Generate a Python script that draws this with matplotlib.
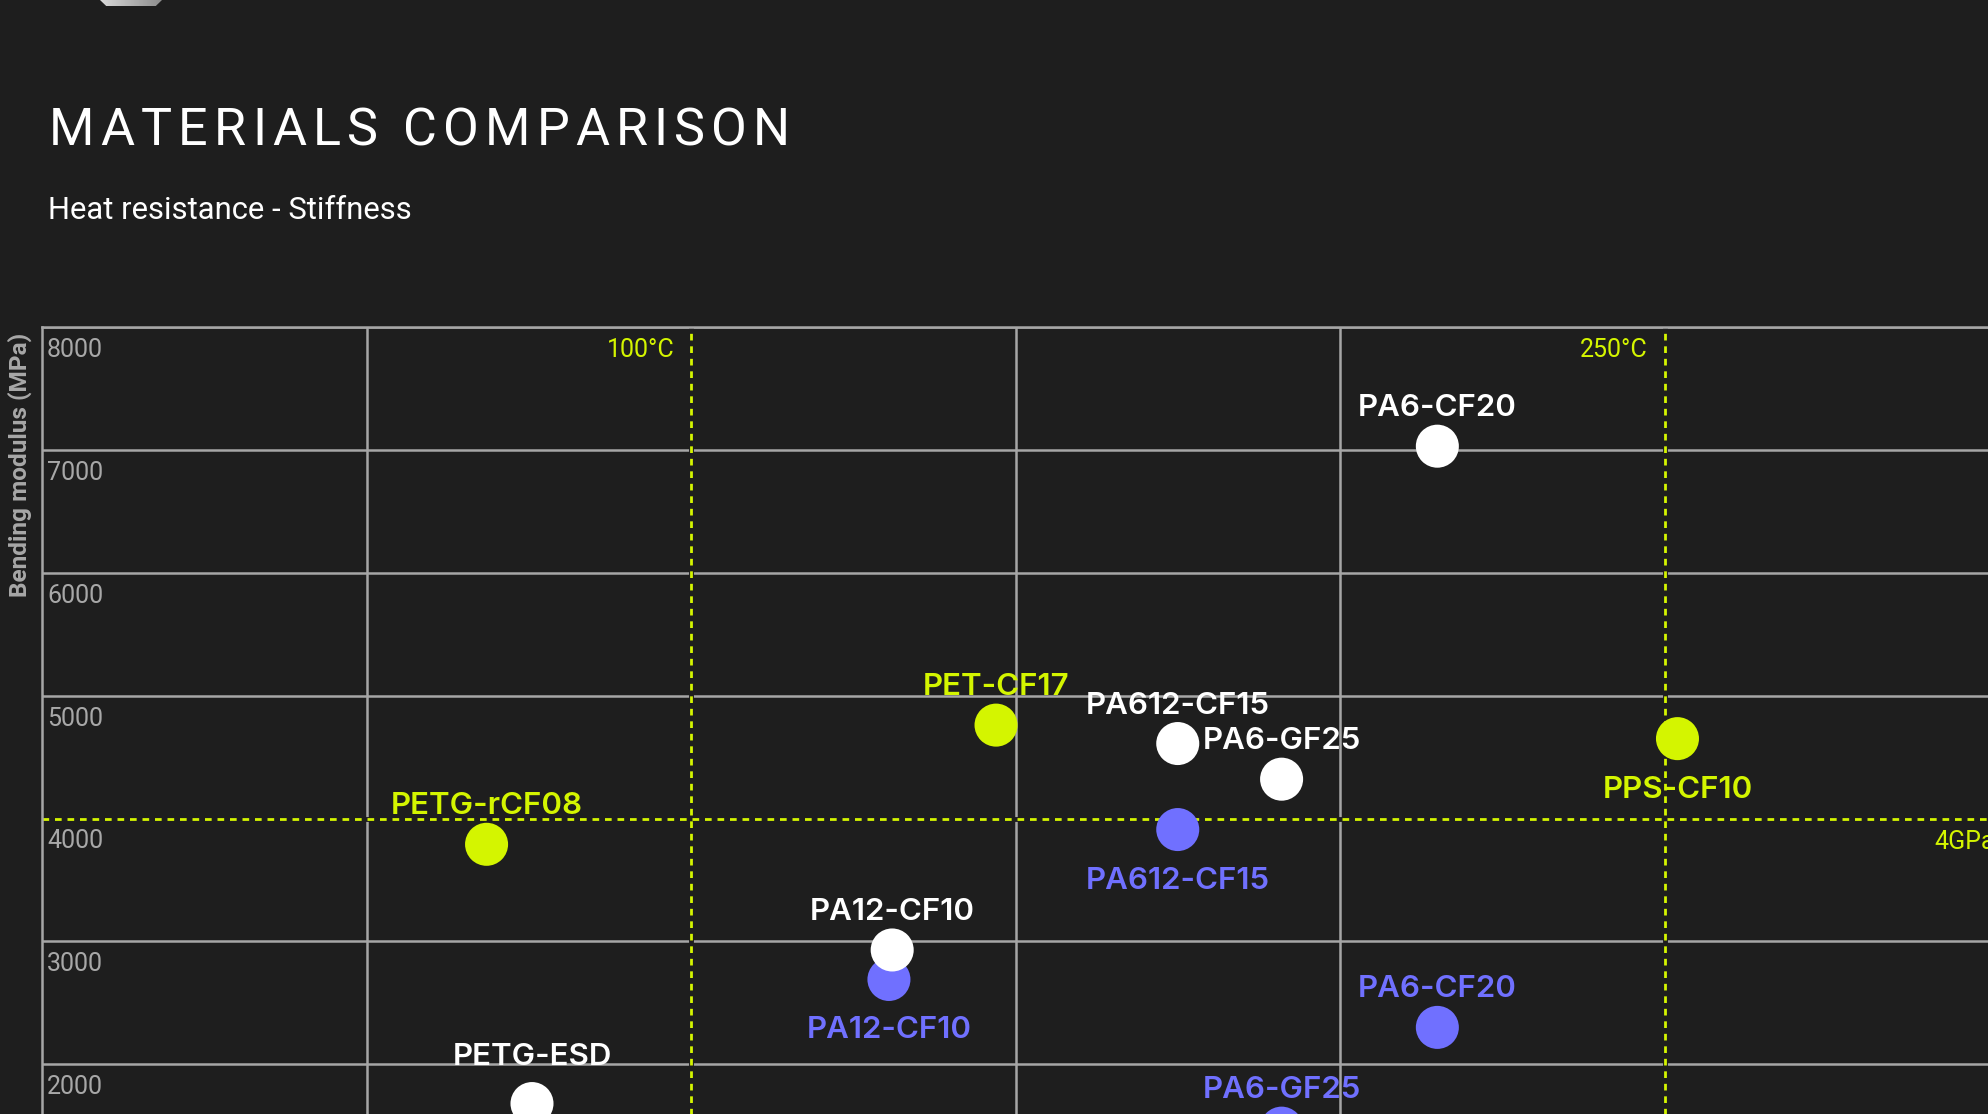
import numpy as np
import matplotlib.pyplot as plt
from matplotlib.patches import Polygon

# data (x: heat resistance in degC, y: bending modulus in MPa)
white_names = ["PA6-CF20", "PA612-CF15", "PA6-GF25", "PA12-CF10", "PETG-ESD"]
white_temp = [215, 175, 191, 131, 75.5]
white_mod = [7030, 4610, 4320, 2930, 1680]
white_pos = ["above", "above", "above", "above", "high"]

lime_names = ["PET-CF17", "PPS-CF10", "PETG-rCF08"]
lime_temp = [147, 252, 68.5]
lime_mod = [4760, 4650, 3790]
lime_pos = ["above", "below", "above"]

violet_names = ["PA612-CF15", "PA12-CF10", "PA6-CF20", "PA6-GF25"]
violet_temp = [175, 130.5, 215, 191]
violet_mod = [3910, 2690, 2300, 1480]
violet_pos = ["below", "below", "above", "above"]

x_grid = [50, 100, 150, 200, 250, 300]
y_grid = [1000, 2000, 3000, 4000, 5000, 6000, 7000, 8000]
y_labels = ["2000", "3000", "4000", "5000", "6000", "7000", "8000"]
ref_temps = [100, 250]
ref_temp_labels = ["100°C", "250°C"]
ref_mod = 4000
ref_mod_label = "4GPa"

bg = '#1e1e1e'
grid_c = '#a6a6a6'
lime = '#d4f500'
violet = '#7070ff'

W, H = 1988, 1114
fig = plt.figure(figsize=(W / 100, H / 100), dpi=100, facecolor=bg)

# axes runs past the right and bottom edges, like the cropped original
ax = fig.add_axes([42 / W, 1 - 1310 / H, 310 * 6.49 / W, (1310 - 327) / H])
ax.set_facecolor(bg)
ax.set_xlim(0, 310)
ax.set_ylim(0, 8000)
ax.set_xticks(x_grid)
ax.set_yticks(y_grid)
ax.tick_params(length=0, labelleft=False, labelbottom=False)
ax.set_axisbelow(True)
ax.grid(True, color=grid_c, lw=1.8)
for s in ['right', 'bottom']:
    ax.spines[s].set_visible(False)
for s in ['left', 'top']:
    ax.spines[s].set_color(grid_c)
    ax.spines[s].set_linewidth(1.8)

# reference lines (hide the grid line under them first)
dash = (0, (2.4, 2.1))
for t, lab in zip(ref_temps, ref_temp_labels):
    ax.axvline(t, color=bg, lw=3.5, zorder=1.5)
    ax.axvline(t, color=lime, lw=2.0, ls=dash, zorder=1.6)
    ax.annotate(lab, xy=(t, 1), xycoords=('data', 'axes fraction'), xytext=(-12, -21.6),
                textcoords='offset points', ha='right', va='baseline', color=lime,
                fontsize=18, family='Roboto')
ax.axhline(ref_mod, color=bg, lw=3.5, zorder=1.5)
ax.axhline(ref_mod, color=lime, lw=2.0, ls=dash, zorder=1.6)
ax.annotate(ref_mod_label, xy=(300, ref_mod), xytext=(4.5, -22),
            textcoords='offset points', ha='right', va='baseline', color=lime,
            fontsize=18, family='Roboto')

# y tick labels sit inside the plot, under each grid line
for lab in y_labels:
    ax.annotate(lab, xy=(0, float(lab)), xycoords=('axes fraction', 'data'), xytext=(3.6, -21.6),
                textcoords='offset points', ha='left', va='baseline', color='#a8a8a8',
                fontsize=18, family='Roboto')

offsets = {"above": 21.6, "high": 27.5, "below": -42.5}

def draw_series(temps, mods, names, pos, color):
    ax.scatter(temps, mods, s=960, color=color, edgecolors='none', zorder=3)
    for t, m, n, p in zip(temps, mods, names, pos):
        ax.annotate(n, xy=(t, m), xytext=(0, offsets[p]), textcoords='offset points',
                    ha='center', va='baseline', color=color, fontsize=22.5,
                    family='Inter', weight='semibold', zorder=4)

draw_series(violet_temp, violet_mod, violet_names, violet_pos, violet)
draw_series(lime_temp, lime_mod, lime_names, lime_pos, lime)
draw_series(white_temp, white_mod, white_names, white_pos, 'white')

fig.text(20 / W, 1 - 333 / H, "Bending modulus (MPa)", rotation=90, ha='center', va='top',
         color='#a8a8a8', fontsize=17.6, family='Roboto', weight='bold')

# title with wide letter spacing
title = "MATERIALS COMPARISON"
fig.canvas.draw()
r = fig.canvas.get_renderer()
def w_of(s, **kw):
    t = fig.text(0, 0, s, **kw)
    w = t.get_window_extent(r).width
    t.remove()
    return w
tkw = dict(fontsize=37.5, family='Roboto')
base = w_of("II", **tkw)
widths = [w_of("I" + c + "I", **tkw) - base for c in title]
track = (741 - sum(widths)) / (len(title) - 1)
x = 49
for c, w in zip(title, widths):
    fig.text(x / W, 1 - 145 / H, c, color='white', ha='left', va='baseline', **tkw)
    x += w + track

fig.text(48 / W, 1 - 219 / H, "Heat resistance - Stiffness", color='white', ha='left',
         va='baseline', fontsize=22.3, family='Roboto')

# bit of the logo peeking in at the top
lax = fig.add_axes([100 / W, 1 - 6 / H, 62 / W, 6 / H])
lax.axis('off')
grad = np.linspace(0.85, 0.55, 64)[None, :]
im = lax.imshow(np.repeat(grad, 4, axis=0), cmap='gray', vmin=0, vmax=1,
                extent=(0, 1, 0, 1), aspect='auto')
clip = Polygon([(0, 1), (1, 1), (0.9, 0), (0.1, 0)], transform=lax.transAxes, visible=False)
lax.add_patch(clip)
im.set_clip_path(clip)

fig.savefig('out.png', dpi=100, facecolor=bg)
